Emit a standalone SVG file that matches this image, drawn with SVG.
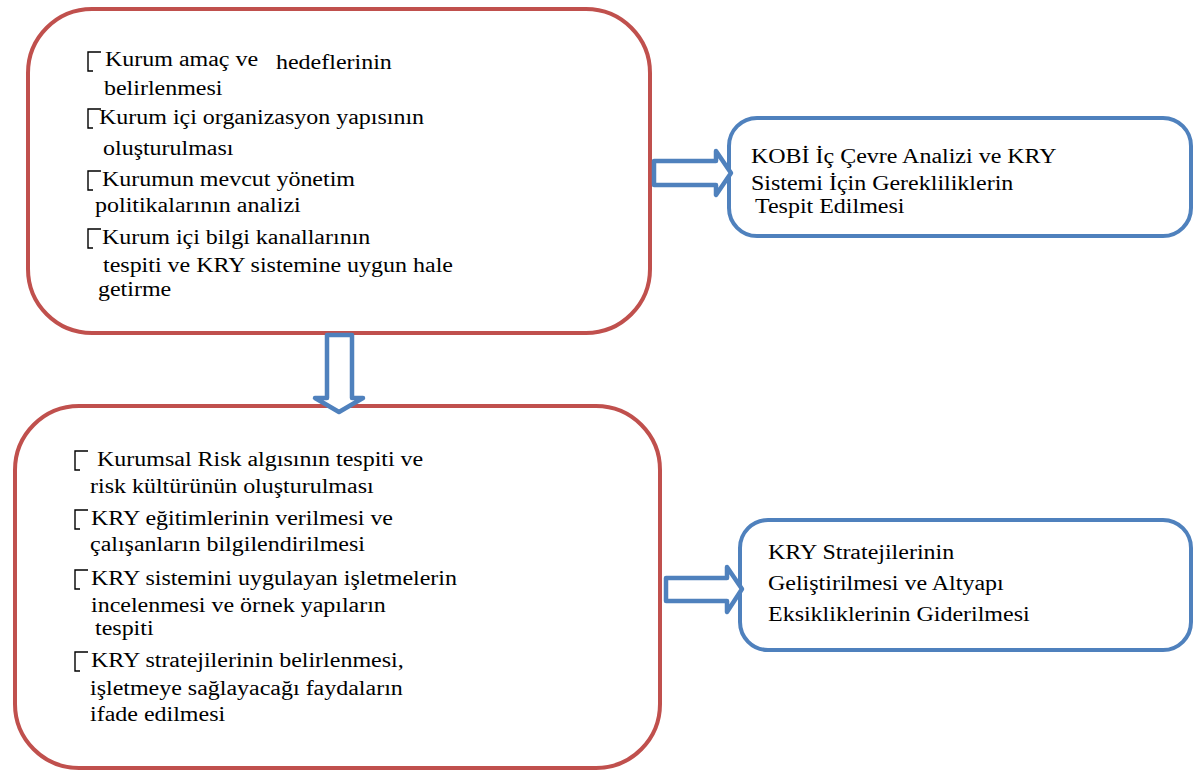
<svg xmlns="http://www.w3.org/2000/svg" width="1193" height="773" viewBox="0 0 1193 773">
<defs>
<style>
.red{fill:#fff;stroke:#C0504D;stroke-width:4}
.blue{fill:#fff;stroke:#4F81BD;stroke-width:4}
.arr{fill:#fff;stroke:#4F81BD;stroke-width:4.5;stroke-linejoin:round}
.b{fill:none;stroke:#000;stroke-width:1.4}
</style>
</defs>
<rect width="1193" height="773" fill="#fff"/>
<g id="node-top" font-family="Liberation Serif, Tinos, DejaVu Serif, serif" font-size="20.5" fill="#000">
<rect class="red" x="28" y="9" width="622" height="324" rx="64"/>
<path class="b" d="M101,52 H88 V71 H93"/>
<path class="b" d="M101,109 H88 V128 H93"/>
<path class="b" d="M101,171 H88 V190 H93"/>
<path class="b" d="M101,229 H88 V248 H93"/>
<text transform="matrix(1.17 0 0 1 105 66)">Kurum amaç ve</text>
<text transform="matrix(1.17 0 0 1 276 69)">hedeflerinin</text>
<text transform="matrix(1.17 0 0 1 104 95)">belirlenmesi</text>
<text transform="matrix(1.17 0 0 1 99 124)">Kurum içi organizasyon yapısının</text>
<text transform="matrix(1.17 0 0 1 103 155)">oluşturulması</text>
<text transform="matrix(1.17 0 0 1 102 186)">Kurumun mevcut yönetim</text>
<text transform="matrix(1.17 0 0 1 95 212)">politikalarının analizi</text>
<text transform="matrix(1.17 0 0 1 102 244)">Kurum içi bilgi kanallarının</text>
<text transform="matrix(1.17 0 0 1 103 272)">tespiti ve KRY sistemine uygun hale</text>
<text transform="matrix(1.17 0 0 1 98 296)">getirme</text>
</g>
<g id="node-top-right" font-family="Liberation Serif, Tinos, DejaVu Serif, serif" font-size="20.5" fill="#000">
<rect class="blue" x="729" y="118" width="462" height="118" rx="28"/>
<text transform="matrix(1.17 0 0 1 751 163)">KOBİ İç Çevre Analizi ve KRY</text>
<text transform="matrix(1.17 0 0 1 751 190)">Sistemi İçin Gerekliliklerin</text>
<text transform="matrix(1.17 0 0 1 755 213)">Tespit Edilmesi</text>
</g>
<g id="node-bottom" font-family="Liberation Serif, Tinos, DejaVu Serif, serif" font-size="20.5" fill="#000">
<rect class="red" x="15" y="406" width="645" height="362" rx="64"/>
<path class="b" d="M88,451 H75 V470 H80"/>
<path class="b" d="M88,510 H75 V529 H80"/>
<path class="b" d="M88,570 H75 V589 H80"/>
<path class="b" d="M88,652 H75 V671 H80"/>
<text transform="matrix(1.17 0 0 1 97 466)">Kurumsal Risk algısının tespiti ve</text>
<text transform="matrix(1.17 0 0 1 90 493)">risk kültürünün oluşturulması</text>
<text transform="matrix(1.17 0 0 1 91 525)">KRY eğitimlerinin verilmesi ve</text>
<text transform="matrix(1.17 0 0 1 90 551)">çalışanların bilgilendirilmesi</text>
<text transform="matrix(1.17 0 0 1 91 585)">KRY sistemini uygulayan işletmelerin</text>
<text transform="matrix(1.17 0 0 1 91 612)">incelenmesi ve örnek yapıların</text>
<text transform="matrix(1.17 0 0 1 95 635)">tespiti</text>
<text transform="matrix(1.17 0 0 1 91 667)">KRY stratejilerinin belirlenmesi,</text>
<text transform="matrix(1.17 0 0 1 90 695)">işletmeye sağlayacağı faydaların</text>
<text transform="matrix(1.17 0 0 1 90 721)">ifade edilmesi</text>
</g>
<g id="node-bottom-right" font-family="Liberation Serif, Tinos, DejaVu Serif, serif" font-size="20.5" fill="#000">
<rect class="blue" x="740" y="520" width="451" height="130" rx="28"/>
<text transform="matrix(1.17 0 0 1 768 559)">KRY Stratejilerinin</text>
<text transform="matrix(1.17 0 0 1 768 590)">Geliştirilmesi ve Altyapı</text>
<text transform="matrix(1.17 0 0 1 768 621)">Eksikliklerinin Giderilmesi</text>
</g>
<g id="connectors">
<polygon class="arr" points="654,161 716,161 716,151 731,173 716,195 716,185 654,185"/>
<polygon class="arr" points="327,335 352,335 352,398 363,398 339,412 315,398 327,398"/>
<polygon class="arr" points="666,578 727,578 727,567 742,589 727,612 727,601 666,601"/>
</g>
</svg>
